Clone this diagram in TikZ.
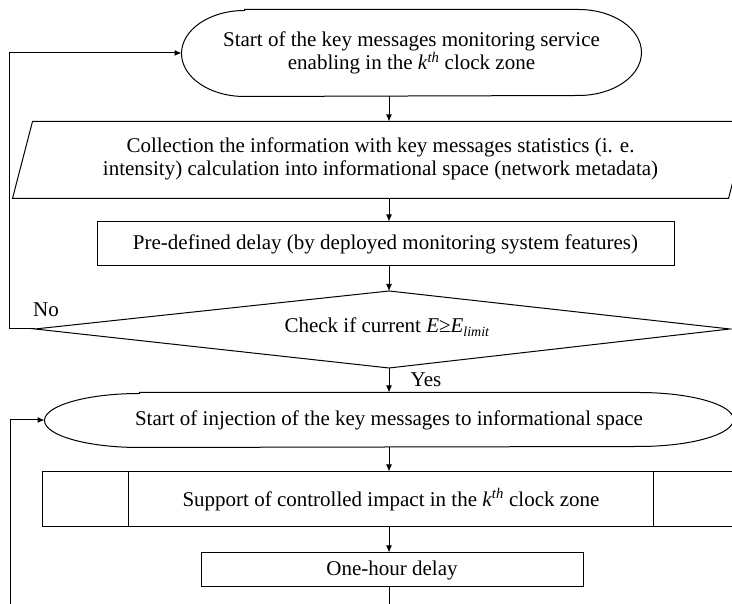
\documentclass[tikz,border=0pt]{standalone}
\usepackage{fontspec}
\setmainfont{Liberation Serif}
\usetikzlibrary{arrows.meta,calc}
\begin{document}
\begin{tikzpicture}[x=1pt,y=1pt,
  line width=1pt,
  every node/.style={font=\fontsize{21}{23.5}\selectfont},
  box/.style={inner sep=0pt, align=center},
  arr/.style={-{Latex[length=7pt,width=6pt]}}]
\useasboundingbox (0,0) rectangle (732,604);
\clip (0,0) rectangle (732,604);
\coordinate (ax) at (389,0);
% terminator 1
\node[box, minimum width=459, minimum height=86] (s1) at (411.5,551)
  {Start of the key messages monitoring service\\enabling in the \textit{k}\textsuperscript{\textit{th}} clock zone};
\draw ($(s1.north west)+(63,0)$) -- ($(s1.north east)+(-63,0)$)
  arc[start angle=90,end angle=-90,x radius=63,y radius=43]
  -- ($(s1.south west)+(63,0)$)
  arc[start angle=270,end angle=90,x radius=63,y radius=43] -- cycle;
% parallelogram
\node[box, minimum width=715, minimum height=76] (par) at (380.5,445)
  {Collection the information with key messages statistics (i. e.\\intensity) calculation into informational space (network metadata)};
\draw ($(par.north west)+(10,-1)$) -- ($(par.north east)+(10,-1)$)
  -- ($(par.south east)+(-10,-1)$) -- ($(par.south west)+(-10,-1)$) -- cycle;
% predefined delay
\node[box, draw, minimum width=577, minimum height=44] (pre) at (385.5,360)
  {Pre-defined delay (by deployed monitoring system features)};
% decision
\coordinate (dt) at (389,313);
\coordinate (dl) at (35,275);
\coordinate (dr) at (730,275);
\coordinate (db) at (389,236);
\draw (dt) -- (dr) -- (db) -- (dl) -- cycle;
\node[box] (dec) at (387,277) {Check if current \textit{E}≥\textit{E}\raisebox{-0.35ex}{\fontsize{14}{14}\selectfont\textit{limit}}};
\node[box] (no) at (46,294) {No};
\node[box] (yes) at (426,224) {Yes};
% terminator 2
\node[box, minimum width=688, minimum height=54] (s2) at (389,184)
  {Start of injection of the key messages to informational space};
\draw ($(s2.north west)+(95,0)$) -- ($(s2.north east)+(-95,0)$)
  arc[start angle=90,end angle=-90,x radius=95,y radius=27]
  -- ($(s2.south west)+(95,0)$)
  arc[start angle=270,end angle=90,x radius=95,y radius=27] -- cycle;
% predefined process
\node[box, draw, minimum width=698, minimum height=55] (pp) at (391,104.5)
  {Support of controlled impact in the \textit{k}\textsuperscript{\textit{th}} clock zone};
\draw ($(pp.north west)+(87,0)$) -- ($(pp.south west)+(87,0)$);
\draw ($(pp.north east)+(-87,0)$) -- ($(pp.south east)+(-87,0)$);
% one-hour delay
\node[box, draw, minimum width=382, minimum height=34] (oh) at (392,34) {One-hour delay};
% connectors
\draw[arr] (s1.south -| ax) -- ($(par.north -| ax)+(0,-1)$);
\draw[arr] ($(par.south -| ax)+(0,-1)$) -- (pre.north -| ax);
\draw[arr] (pre.south -| ax) -- (dt);
\draw[arr] (db) -- (s2.north -| db);
\draw[arr] (s2.south -| ax) -- (pp.north -| ax);
\draw[arr] (pp.south -| ax) -- (oh.north -| ax);
\coordinate (bot) at (389,0);
\draw (oh.south -| bot) -- (bot);
\coordinate (lx1) at (9,0);
\draw[arr] (dl) -- (dl -| lx1) -- (s1.west -| lx1) -- (s1.west);
\coordinate (lb) at (10,0);
\draw[arr] (lb) -- (s2.west -| lb) -- (s2.west);
\end{tikzpicture}
\end{document}
